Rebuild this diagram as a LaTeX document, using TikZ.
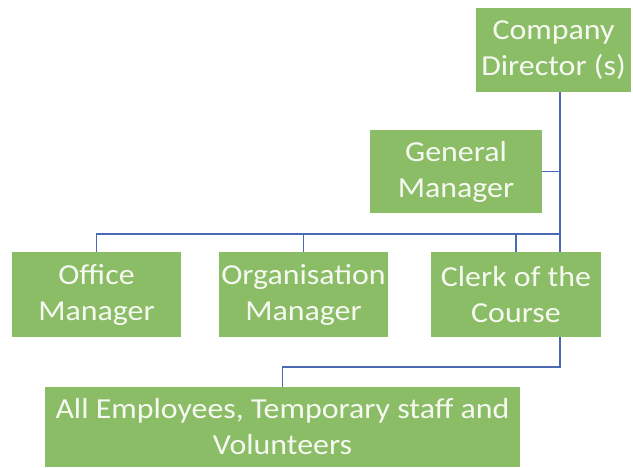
\documentclass[tikz,border=0pt]{standalone}
\usepackage{fontspec}
\setmainfont[FakeStretch=1.1]{Carlito}
\usetikzlibrary{positioning}
\definecolor{postgreen}{HTML}{8BBD66}
\definecolor{postline}{HTML}{4A6AB4}
\definecolor{posttext}{HTML}{F6F9F2}

\begin{document}
\begin{tikzpicture}[
        x=1pt, y=-1pt,
        post/.style={rectangle, fill=postgreen, text=posttext, inner sep=0pt, align=center,
                     minimum height=84pt, font=\fontsize{29}{36}\selectfont},
        link/.style={draw=postline, line width=1.6pt},
        trunkline/.style={draw=postline, line width=2.2pt}
    ]

    \useasboundingbox (0,0) rectangle (633,467);

    % Posten
    \node[post, minimum width=155pt] (dir) at (553.5,50) {Company\\Director (s)};
    \node[post, minimum width=172pt, minimum height=83pt] (gm) at (456,171.5) {General\\Manager};
    \node[post, minimum width=169pt, minimum height=85pt] (office) at (96.5,294.5) {Office\\Manager};
    \node[post, minimum width=169pt, minimum height=85pt] (org) at (303.5,294.5) {Organisation\\Manager};
    \node[post, minimum width=170pt, minimum height=85pt] (clerk) at (516,294.5) {Clerk of the\\Course};
    \node[post, minimum width=475pt, minimum height=80pt] (all) at (282.5,427) {All Employees, Temporary staff and\\Volunteers};

    % Hilfspunkte
    \coordinate (trunk) at (560,0);
    \coordinate (bus) at (0,234);
    \coordinate (low) at (0,367);

    % Stamm
    \draw[trunkline] (dir.south -| trunk) -- (clerk.north -| trunk);
    \draw[link] (gm.east) -- (gm.east -| trunk);

    % Verteiler
    \draw[link] (office.north) -- (office.north |- bus) -- (bus -| trunk);
    \draw[link] (org.north) -- (org.north |- bus);
    \draw[link] (clerk.north) -- (clerk.north |- bus);

    % unten
    \draw[link] (clerk.south -| trunk) -- (low -| trunk) -- (low -| all.north) -- (all.north);

\end{tikzpicture}
\end{document}
